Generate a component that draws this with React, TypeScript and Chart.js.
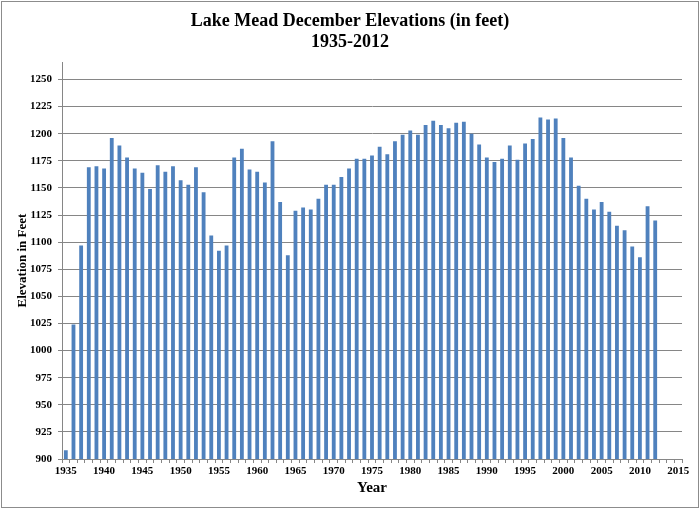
import React, { useEffect, useRef } from "react";
import { Chart, registerables } from "chart.js";

Chart.register(...registerables);

const years: number[] = [];
for (let y = 1935; y <= 2015; y++) years.push(y);

const elevations: (number | null)[] = [
  908, 1024, 1097, 1169, 1170, 1168, 1196, 1189, 1178, 1168, // 1935-1944
  1164, 1149, 1171, 1165, 1170, 1157, 1153, 1169, 1146, 1106, // 1945-1954
  1092, 1097, 1178, 1186, 1167, 1165, 1155, 1193, 1137, 1088, // 1955-1964
  1129, 1132, 1130, 1140, 1153, 1153, 1160, 1168, 1177, 1177, // 1965-1974
  1180, 1188, 1181, 1193, 1199, 1203, 1199, 1208, 1212, 1208, // 1975-1984
  1205, 1210, 1211, 1200, 1190, 1178, 1174, 1177, 1189, 1176, // 1985-1994
  1191, 1195, 1215, 1213, 1214, 1196, 1178, 1152, 1140, 1130, // 1995-2004
  1137, 1128, 1115, 1111, 1096, 1086, 1133, 1120, null, null, // 2005-2014
  null, // 2015
];

const titleLines = ["Lake Mead December Elevations (in feet)", "1935-2012"];
const yAxisTitle = "Elevation in Feet";
const xAxisTitle = "Year";

const SERIF = "'Liberation Serif', 'Times New Roman', serif";

const frame = {
  id: "frame",
  beforeDraw(chart: any) {
    const ctx = chart.ctx;
    ctx.save();
    ctx.fillStyle = "#ffffff";
    ctx.fillRect(0, 0, chart.width, chart.height);
    ctx.strokeStyle = "#8c8c8c";
    ctx.lineWidth = 1;
    ctx.strokeRect(1.5, 1.5, chart.width - 3, chart.height - 3);
    ctx.restore();
  },
};

export default function App() {
  const ref = useRef<HTMLCanvasElement | null>(null);
  useEffect(() => {
    if (!ref.current) return;
    const chart = new Chart(ref.current, {
      type: "bar",
      data: {
        labels: years.map(String),
        datasets: [
          {
            data: elevations,
            backgroundColor: "#4F81BD",
            borderWidth: 0,
            barPercentage: 0.5,
            categoryPercentage: 1,
          },
        ],
      },
      options: {
        responsive: false,
        animation: false,
        devicePixelRatio: 1,
        layout: { padding: { left: 9, right: 9, top: 0, bottom: 0 } },
        plugins: {
          legend: { display: false },
          tooltip: { enabled: false },
          title: {
            display: true,
            text: titleLines,
            color: "#000",
            font: { family: SERIF, size: 18, weight: "bold", lineHeight: 1.17 },
            padding: { top: 11, bottom: 9 },
          },
        },
        scales: {
          x: {
            type: "category",
            offset: true,
            grid: {
              offset: true,
              drawOnChartArea: false,
              drawTicks: true,
              tickLength: 4,
              color: "#868686",
            },
            border: { color: "#868686", width: 1 },
            ticks: {
              autoSkip: false,
              maxRotation: 0,
              minRotation: 0,
              padding: 2,
              color: "#000",
              font: { family: SERIF, size: 11, weight: "bold" },
              callback: (_v: any, i: number) =>
                years[i] % 5 === 0 ? String(years[i]) : "",
            },
            title: {
              display: true,
              text: xAxisTitle,
              color: "#000",
              font: { family: SERIF, size: 15, weight: "bold" },
              padding: { top: 0, bottom: 12 },
            },
            afterFit: (scale: any) => {
              scale.height = 50;
            },
          },
          y: {
            min: 900,
            max: 1266,
            grid: {
              color: "#868686",
              tickLength: 4,
              drawTicks: true,
            },
            border: { color: "#868686", width: 1 },
            ticks: {
              stepSize: 25,
              padding: 6,
              color: "#000",
              font: { family: SERIF, size: 11, weight: "bold" },
              callback: (v: any) => String(v),
            },
            afterBuildTicks: (scale: any) => {
              scale.ticks = scale.ticks.filter((t: any) => t.value % 25 === 0);
            },
            title: {
              display: true,
              text: yAxisTitle,
              color: "#000",
              font: { family: SERIF, size: 13, weight: "bold" },
              padding: { top: 6, bottom: 0 },
            },
            afterFit: (scale: any) => {
              scale.width = 53;
            },
          },
          spacer: {
            type: "linear",
            position: "right",
            display: true,
            grid: { display: false, drawTicks: false },
            border: { display: false },
            ticks: { display: false },
            afterFit: (scale: any) => {
              scale.width = 9;
            },
          },
        },
      },
      plugins: [frame],
    });
    return () => chart.destroy();
  }, []);
  return (
    <div style={{ position: "absolute", left: 0, top: 0, width: 700, height: 509 }}>
      <canvas ref={ref} width={700} height={509} />
    </div>
  );
}
